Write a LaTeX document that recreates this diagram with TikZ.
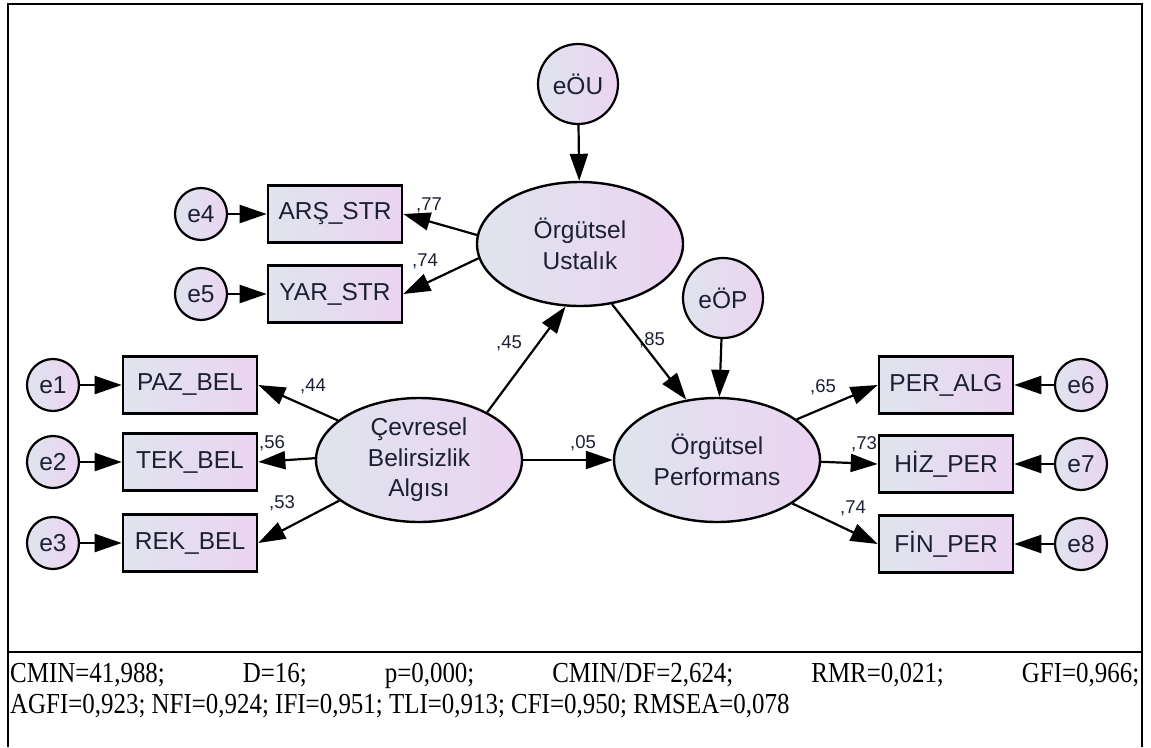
\documentclass[tikz,border=0pt]{standalone}
\usepackage{fontspec}
\setmainfont{Liberation Sans}
\newfontfamily\statfont[FakeStretch=0.86]{Liberation Serif}
\usetikzlibrary{shapes.geometric,arrows.meta}
\definecolor{fillL}{HTML}{DFE4EE}
\definecolor{fillR}{HTML}{EBD4F1}
\definecolor{ink}{HTML}{1C2033}
\tikzset{
  shadefill/.style={draw=black, left color=fillL, right color=fillR, text=ink},
  obs/.style={shadefill, rectangle, line width=2.6pt, minimum width=134pt, minimum height=57pt,
    inner sep=0pt, font=\fontsize{24.5}{28}\selectfont},
  lat/.style={shadefill, ellipse, line width=2.4pt, minimum width=206pt, minimum height=124pt,
    inner sep=0pt, align=center, font=\fontsize{24.5}{30.5}\selectfont},
  err/.style={shadefill, circle, line width=2.2pt, minimum size=52pt, inner sep=0pt,
    font=\fontsize{24.5}{28}\selectfont},
  bigerr/.style={err, minimum size=80pt},
  arr/.style={-{Triangle[length=27pt,width=18pt]}, line width=2.2pt},
  coef/.style={text=ink, inner sep=0pt, font=\fontsize{18.5}{20}\selectfont},
  fitline/.style={anchor=base west, inner sep=0pt, font=\statfont\fontsize{29}{31}\selectfont}
}
\begin{document}
\begin{tikzpicture}[x=1pt,y=-1pt]
\useasboundingbox (0,0) rectangle (1151,747);

% frame
\draw[line width=2.5pt] (8,747) -- (8,4) -- (1142,4) -- (1142,747);
\draw[line width=2pt] (8,652) -- (1142,652);

% latent variables
\node[lat] (u) at (580,244) {Örgütsel\\Ustalık};
\node[lat] (c) at (419,460) {Çevresel\\Belirsizlik\\Algısı};
\node[lat] (p) at (717,460) {Örgütsel\\Performans};

% disturbances of the latents
\node[bigerr] (eou) at (578,84) {eÖU};
\node[bigerr] (eop) at (723,298) {eÖP};

% observed indicators
\node[obs] (ars) at (335,214) {ARŞ\_STR};
\node[obs] (yar) at (335,294) {YAR\_STR};
\node[obs] (paz) at (190,385) {PAZ\_BEL};
\node[obs] (tek) at (190,462) {TEK\_BEL};
\node[obs] (rek) at (190,543) {REK\_BEL};
\node[obs] (per) at (946,385) {PER\_ALG};
\node[obs] (hiz) at (946,464) {HİZ\_PER};
\node[obs] (fin) at (946,544) {FİN\_PER};

% measurement errors
\node[err] (e4) at (201,214) {e4};
\node[err] (e5) at (201,294) {e5};
\node[err] (e1) at (53,385) {e1};
\node[err] (e2) at (53,462) {e2};
\node[err] (e3) at (53,543) {e3};
\node[err] (e6) at (1081,385) {e6};
\node[err] (e7) at (1081,464) {e7};
\node[err] (e8) at (1081,544) {e8};

% structural paths
\draw[arr] (eou) -- (u);
\draw[arr] (eop) -- (p);
\draw[arr] (c.35) -- (u.257);
\draw[arr] (u.298) -- (p.117);
\draw[arr] (c.0) -- (p.180);

% loadings
\draw[arr] (u.175) -- (ars.east);
\draw[arr] (u.188) -- (yar.east);
\draw[arr] (c.154) -- (paz.east);
\draw[arr] (c.179) -- (tek.east);
\draw[arr] (c.207) -- (rek.east);
\draw[arr] (p.27) -- (per.west);
\draw[arr] (p.359) -- (hiz.west);
\draw[arr] (p.330) -- (fin.west);

% error arrows
\draw[arr] (e4) -- (ars);
\draw[arr] (e5) -- (yar);
\draw[arr] (e1) -- (paz);
\draw[arr] (e2) -- (tek);
\draw[arr] (e3) -- (rek);
\draw[arr] (e6) -- (per);
\draw[arr] (e7) -- (hiz);
\draw[arr] (e8) -- (fin);

% standardized coefficients
\node[coef] (k77) at (429,205) {,77};
\node[coef] (k74a) at (425,261) {,74};
\node[coef] (k44) at (313,386) {,44};
\node[coef] (k56) at (272,443) {,56};
\node[coef] (k53) at (282,503) {,53};
\node[coef] (k45) at (509,343) {,45};
\node[coef] (k85) at (652,340) {,85};
\node[coef] (k05) at (583,443) {,05};
\node[coef] (k65) at (823,387) {,65};
\node[coef] (k73) at (864,444) {,73};
\node[coef] (k74b) at (853,508) {,74};

% fit indices
\node[fitline, text width=1129pt] (fit1) at (10,682)
  {CMIN=41,988;\hfill D=16;\hfill p=0,000;\hfill CMIN/DF=2,624;\hfill RMR=0,021;\hfill GFI=0,966;};
\node[fitline] (fit2) at (10,713)
  {AGFI=0,923; NFI=0,924; IFI=0,951; TLI=0,913; CFI=0,950; RMSEA=0,078};
\end{tikzpicture}
\end{document}
